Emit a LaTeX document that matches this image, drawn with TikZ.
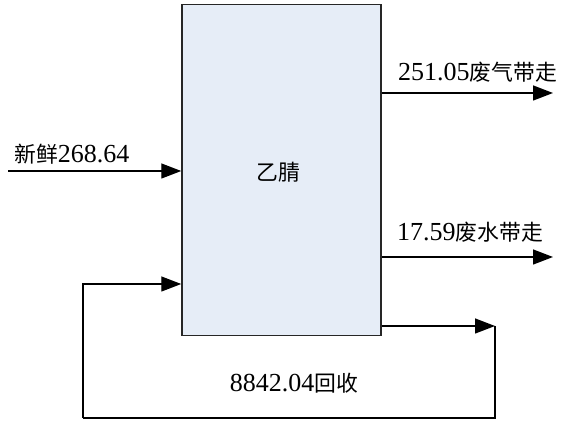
\documentclass[tikz,border=0pt]{standalone}
\usepackage{fontspec}
\setmainfont{Liberation Serif}
\newfontfamily\cjk[Scale=0.84]{Noto Sans CJK SC}
\usetikzlibrary{arrows.meta,positioning}
\definecolor{boxfill}{RGB}{230,237,247}

\begin{document}
\begin{tikzpicture}[
    x=1pt, y=-1pt,
    unit/.style={rectangle, draw=black!85, fill=boxfill, line width=1.5pt,
        minimum width=199pt, minimum height=331pt, inner sep=0pt},
    flowlabel/.style={inner sep=0pt, anchor=west, font=\fontsize{26}{30}\selectfont},
    arrow/.style={-{Triangle[length=20pt,width=15pt]}, line width=1.4pt},
    pipe/.style={line width=1.4pt}
]
\useasboundingbox (0,0) rectangle (566,427);

\node[unit] (box) at (281.5,170) {};
\node[inner sep=0pt, font=\fontsize{26}{30}\selectfont] (name) at (278,172) {\cjk 乙腈};

% feed and outlets
\coordinate (feedStart) at (8,171);
\coordinate (gasEnd) at (553,93);
\coordinate (waterEnd) at (553,257);
\coordinate (recTip) at (495,326);
\coordinate (recLeft) at (83,418);
\coordinate (recIn) at (box.west |- 0,284);

\node[flowlabel] (feed) at (14,154) {{\cjk 新鲜}268.64};
\node[flowlabel] (gas) at (398,72) {251.05{\cjk 废气带走}};
\node[flowlabel] (water) at (397,232) {17.59{\cjk 废水带走}};
\node[flowlabel, anchor=center] (recycle) at (294,383) {8842.04{\cjk 回收}};

\draw[arrow] (feedStart) -- (feedStart -| box.west);
\draw[arrow] (gasEnd -| box.east) -- (gasEnd);
\draw[arrow] (waterEnd -| box.east) -- (waterEnd);
\draw[arrow] (recTip -| box.east) -- (recTip);

% recycle loop
\draw[pipe] (recTip) |- (recLeft);
\draw[arrow] (recLeft) |- (recIn);
\end{tikzpicture}
\end{document}
